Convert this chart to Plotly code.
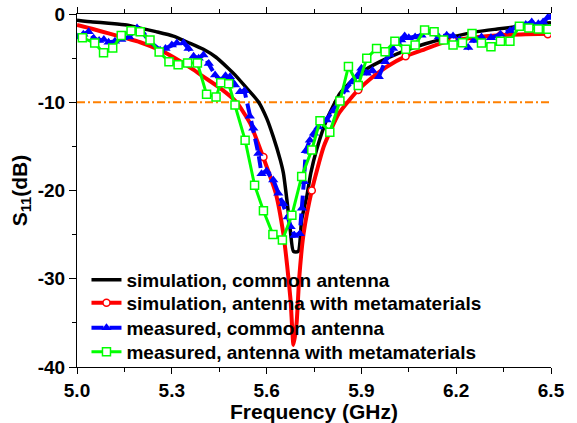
import plotly.graph_objects as go

# ---------------- data ----------------
sim_common_f = [5.00, 5.05, 5.10, 5.157, 5.20, 5.25, 5.305, 5.35, 5.40, 5.44, 5.48, 5.50,
                5.537, 5.574, 5.60, 5.621, 5.643, 5.653, 5.664, 5.675, 5.685, 5.70, 5.711,
                5.727, 5.740, 5.758, 5.79, 5.832, 5.86, 5.896, 5.959, 6.043, 6.10, 6.15,
                6.20, 6.266, 6.33, 6.40, 6.477, 6.50]
sim_common_s = [-0.7, -0.9, -1.05, -1.25, -1.6, -2.0, -2.5, -3.2, -4.0, -4.9, -6.2, -6.9,
                -8.4, -9.94, -11.8, -13.9, -16.5, -18.0, -21.0, -24.5, -26.9, -26.9, -23.3,
                -20.7, -18.0, -15.4, -12.0, -9.0, -7.9, -6.7, -5.4, -4.1, -3.4, -2.9,
                -2.5, -2.0, -1.7, -1.4, -1.06, -1.0]

sim_meta_f = [5.00, 5.05, 5.10, 5.157, 5.20, 5.263, 5.30, 5.368, 5.40, 5.453, 5.505, 5.548,
              5.589, 5.629, 5.653, 5.665, 5.676, 5.685, 5.695, 5.703, 5.717, 5.743, 5.781,
              5.828, 5.862, 5.89, 5.93, 5.979, 6.04, 6.10, 6.154, 6.20, 6.27, 6.34, 6.42, 6.50]
sim_meta_s = [-1.25, -1.7, -2.2, -2.75, -3.2, -4.1, -4.8, -6.3, -7.1, -8.4, -10.0, -12.4,
              -16.2, -20.3, -24.9, -28.5, -32.5, -37.5, -35.0, -30.0, -24.9, -20.0, -15.0,
              -11.3, -9.75, -8.6, -7.3, -6.0, -4.8, -4.0, -3.3, -2.95, -2.6, -2.4, -2.3, -2.25]
sim_meta_mark_f = [5.59, 5.743, 5.89, 6.04, 6.19, 6.34, 6.49]
sim_meta_mark_s = [-16.2, -20.0, -8.6, -4.8, -3.0, -2.45, -2.3]

meas_common_f = [5.000, 5.020, 5.037, 5.053, 5.070, 5.085, 5.100, 5.120, 5.140, 5.165, 5.190,
                 5.205, 5.230, 5.263, 5.280, 5.300, 5.316, 5.337, 5.353, 5.369, 5.385, 5.400,
                 5.417, 5.437, 5.455, 5.470, 5.484, 5.500, 5.516, 5.530, 5.547, 5.558, 5.574,
                 5.584, 5.600, 5.621, 5.637, 5.653, 5.667, 5.676, 5.688, 5.705, 5.712, 5.718,
                 5.724, 5.737, 5.750, 5.764, 5.790, 5.810, 5.832, 5.848, 5.870, 5.885, 5.900,
                 5.917, 5.935, 5.955, 5.975, 5.990, 6.000, 6.015, 6.026, 6.037, 6.050, 6.070,
                 6.090, 6.120, 6.145, 6.170, 6.190, 6.210, 6.238, 6.255, 6.280, 6.310, 6.340,
                 6.370, 6.390, 6.420, 6.439, 6.460, 6.475, 6.490, 6.500]
meas_common_s = [-2.6, -2.3, -2.0, -2.75, -3.0, -2.9, -3.2, -3.1, -2.9, -2.6, -1.6,
                 -2.0, -3.1, -4.1, -3.9, -3.5, -3.3, -3.25, -3.9, -4.8, -5.0, -4.65,
                 -5.6, -6.9, -7.6, -7.0, -7.1, -8.05, -8.8, -8.7, -11.6, -12.95, -15.8,
                 -18.1, -17.8, -18.8, -20.3, -21.5, -23.0, -24.1, -25.1, -24.9, -22.0, -19.0,
                 -15.5, -14.3, -13.5, -12.8, -12.0, -11.0, -9.75, -8.6, -7.7, -7.1, -6.15,
                 -6.7, -6.4, -7.1, -5.4, -4.6, -3.9, -3.3, -2.95, -2.5, -2.7, -2.6,
                 -2.4, -2.0, -2.6, -2.4, -2.5, -2.9, -3.8, -3.0, -2.6, -2.7, -2.3,
                 -1.9, -1.44, -1.2, -0.9, -1.1, -0.9, -0.4, -0.3]

meas_meta_f = [5.017, 5.056, 5.084, 5.113, 5.140, 5.171, 5.200, 5.231, 5.260, 5.291, 5.320,
               5.350, 5.381, 5.410, 5.440, 5.455, 5.480, 5.500, 5.532, 5.562, 5.590, 5.620,
               5.650, 5.680, 5.711, 5.743, 5.769, 5.800, 5.832, 5.859, 5.890, 5.917, 5.948,
               5.975, 6.006, 6.040, 6.070, 6.100, 6.130, 6.160, 6.190, 6.220, 6.250, 6.280,
               6.310, 6.340, 6.370, 6.400, 6.430, 6.460, 6.490]
meas_meta_s = [-2.68, -3.3, -4.4, -3.85, -2.45, -1.9, -2.0, -2.95, -4.3, -5.4, -5.75,
               -5.55, -5.55, -9.1, -9.4, -7.8, -7.9, -10.3, -14.3, -19.4, -22.3, -25.0,
               -25.6, -22.8, -18.4, -15.4, -12.1, -13.4, -9.86, -5.95, -8.1, -5.0, -3.9,
               -4.27, -3.1, -4.0, -3.5, -1.8, -2.0, -2.95, -3.5, -3.25, -2.2, -3.3,
               -3.7, -3.1, -3.1, -1.4, -1.6, -1.7, -1.72]

threshold_f = [5.0, 6.5]
threshold_s = [-10, -10]

x_ticks = [5.0, 5.3, 5.6, 5.9, 6.2, 6.5]
x_ticktext = ["5.0", "5.3", "5.6", "5.9", "6.2", "6.5"]
y_ticks = [0, -10, -20, -30, -40]
y_ticktext = ["0", "-10", "-20", "-30", "-40"]

names = ["simulation, common antenna",
         "simulation, antenna with metamaterials",
         "measured, common antenna",
         "measured, antenna with metamaterials"]

# ---------------- figure ----------------
FONT = "Liberation Sans, Arial, sans-serif"
RED = "#ff0000"
BLUE = "#0000ff"
GREEN = "#00ff00"

fig = go.Figure()

fig.add_trace(go.Scatter(x=threshold_f, y=threshold_s, mode="lines", showlegend=False,
                         line=dict(color="#ff8000", width=2, dash="8px,3px,2px,3px"),
                         hoverinfo="skip"))

fig.add_trace(go.Scatter(x=sim_common_f, y=sim_common_s, mode="lines", name=names[0],
                         legend="legend",
                         line=dict(color="black", width=3.5, shape="spline", smoothing=0.6)))

fig.add_trace(go.Scatter(x=sim_meta_f, y=sim_meta_s, mode="lines", showlegend=False,
                         line=dict(color=RED, width=4, shape="spline", smoothing=0.5)))
fig.add_trace(go.Scatter(x=sim_meta_mark_f, y=sim_meta_mark_s, mode="markers", showlegend=False,
                         marker=dict(symbol="circle", size=7, color="white",
                                     line=dict(color=RED, width=1.5))))
fig.add_trace(go.Scatter(x=[None], y=[None], mode="lines+markers", name=names[1],
                         legend="legend2",
                         line=dict(color=RED, width=4),
                         marker=dict(symbol="circle", size=7, color="white",
                                     line=dict(color=RED, width=1.5))))

fig.add_trace(go.Scatter(x=meas_common_f, y=meas_common_s, mode="lines+markers", name=names[2],
                         legend="legend3",
                         line=dict(color=BLUE, width=4, dash="12px,6px"),
                         marker=dict(symbol="triangle-up", size=9, color=BLUE)))

fig.add_trace(go.Scatter(x=meas_meta_f, y=meas_meta_s, mode="lines+markers", name=names[3],
                         legend="legend4",
                         line=dict(color=GREEN, width=3),
                         marker=dict(symbol="square", size=8, color="white",
                                     line=dict(color=GREEN, width=1.5))))

axis_font = dict(family=FONT, size=19, color="black", weight="bold")
legend_font = dict(family=FONT, size=19, color="black", weight="bold")


def leg(yc):
    return dict(x=0.02, y=yc, xanchor="left", yanchor="middle",
                bgcolor="rgba(0,0,0,0)", borderwidth=0, font=legend_font)


fig.update_layout(
    width=577, height=423,
    margin=dict(l=77, r=26, t=14, b=56, autoexpand=False),
    paper_bgcolor="white", plot_bgcolor="white",
    font=dict(family=FONT, size=19, color="black", weight="bold"),
    showlegend=True,
    legend=leg(0.2465),
    legend2=leg(0.1813),
    legend3=leg(0.1105),
    legend4=leg(0.0425),
    xaxis=dict(range=[5.0, 6.5], tickmode="array", tickvals=x_ticks, ticktext=x_ticktext,
               automargin=False,
               ticks="outside", ticklen=6, tickwidth=1.2, tickcolor="black",
               showline=True, linecolor="black", linewidth=1.2, mirror="ticks",
               showgrid=False, zeroline=False, tickfont=axis_font,
               minor=dict(dtick=0.15, tick0=5.0, ticks="outside", ticklen=3.5,
                          tickwidth=1.2, tickcolor="black", showgrid=False),
               title=dict(text="Frequency (GHz)", standoff=3,
                          font=dict(family=FONT, size=21, color="black", weight="bold"))),
    yaxis=dict(range=[-40, 0], tickmode="array", tickvals=y_ticks, ticktext=y_ticktext,
               automargin=False,
               ticks="outside", ticklen=7, tickwidth=1.2, tickcolor="black",
               showline=True, linecolor="black", linewidth=1.2, mirror=False,
               showgrid=False, zeroline=False, tickfont=axis_font,
               minor=dict(dtick=5, tick0=0, ticks="outside", ticklen=4,
                          tickwidth=1.2, tickcolor="black", showgrid=False),
               title=dict(text="S<sub>11</sub>(dB)", standoff=4,
                          font=dict(family=FONT, size=21, color="black", weight="bold"))),
    yaxis2=dict(range=[-40, 0], overlaying="y", side="right", tickmode="array",
                tickvals=y_ticks, showticklabels=False, automargin=False,
                ticks="inside", ticklen=7, tickwidth=1.2, tickcolor="black",
                showline=True, linecolor="black", linewidth=1.2,
                showgrid=False, zeroline=False,
                minor=dict(dtick=5, tick0=0, ticks="inside", ticklen=7,
                           tickwidth=1.2, tickcolor="black", showgrid=False)),
)

fig.write_html("out.html")
